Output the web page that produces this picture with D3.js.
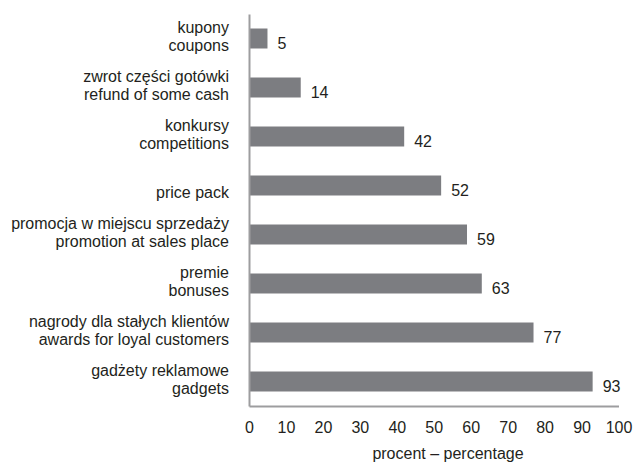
<!DOCTYPE html>
<html>
<head>
<meta charset="utf-8">
<script src="https://cdn.jsdelivr.net/npm/d3@7"></script>
<style>
    body { margin: 0; background: #fff; }
    text { font-family: "Liberation Sans", Arial, sans-serif; fill: #231f20; }
</style>
</head>
<body>
<div id="chart"></div>
<script>
// categories top to bottom, polish line / english line
var labelsPl = ["kupony", "zwrot części gotówki", "konkursy", "", "promocja w miejscu sprzedaży", "premie", "nagrody dla stałych klientów", "gadżety reklamowe"];
var labelsEn = ["coupons", "refund of some cash", "competitions", "price pack", "promotion at sales place", "bonuses", "awards for loyal customers", "gadgets"];
var values = [5, 14, 42, 52, 59, 63, 77, 93];
var ticks = [0, 10, 20, 30, 40, 50, 60, 70, 80, 90, 100];

var width = 633, height = 464;

var svg = d3.select("#chart")
        .append("svg")
        .attr("width", width)
        .attr("height", height);

var x = d3.scaleLinear()
        .domain([0, 100])
        .range([249, 618.5]);

var y = d3.scaleBand()
        .domain(labelsEn)
        .range([14, 406])
        .paddingInner(0.592)
        .paddingOuter(0.296);

// bars
svg.selectAll("rect.bar")
        .data(values)
        .enter()
        .append("rect")
        .attr("class", "bar")
        .attr("x", x(0))
        .attr("y", (d, i) => y(labelsEn[i]))
        .attr("width", (d) => x(d) - x(0))
        .attr("height", y.bandwidth())
        .attr("fill", "#7c7d81");

// value labels
svg.selectAll("text.val")
        .data(values)
        .enter()
        .append("text")
        .attr("class", "val")
        .attr("x", (d) => x(d) + 10)
        .attr("y", (d, i) => y(labelsEn[i]) + y.bandwidth() / 2 + 10)
        .style("font-size", "16px")
        .text((d) => d);

// category labels, two lines each
var cat = svg.selectAll("g.cat")
        .data(labelsEn)
        .enter()
        .append("g")
        .attr("class", "cat")
        .attr("transform", (d) => "translate(229," + (y(d) + y.bandwidth() / 2) + ")");
cat.append("text")
        .attr("text-anchor", "end")
        .attr("y", -6)
        .style("font-size", "16px")
        .text((d, i) => labelsPl[i]);
cat.append("text")
        .attr("text-anchor", "end")
        .attr("y", 12)
        .style("font-size", "16px")
        .text((d) => d);

// axes
var xAxis = svg.append("g")
        .attr("transform", "translate(0,406)")
        .call(d3.axisBottom(x).tickValues(ticks).tickSize(0).tickPadding(0));
xAxis.select(".domain").attr("stroke", "#9d9d9f").attr("stroke-width", 2);
xAxis.selectAll(".tick text")
        .attr("dy", null)
        .attr("y", 26.5)
        .style("font-family", "Liberation Sans, Arial, sans-serif")
        .style("font-size", "16px")
        .attr("fill", "#231f20");

var yAxis = svg.append("g")
        .attr("transform", "translate(249,0)")
        .call(d3.axisLeft(y).tickSize(0).tickFormat(""));
yAxis.select(".domain").attr("stroke", "#9d9d9f").attr("stroke-width", 2);

svg.append("text")
        .attr("x", 448)
        .attr("y", 459)
        .attr("text-anchor", "middle")
        .style("font-size", "16px")
        .text("procent – percentage");
</script>
</body>
</html>
